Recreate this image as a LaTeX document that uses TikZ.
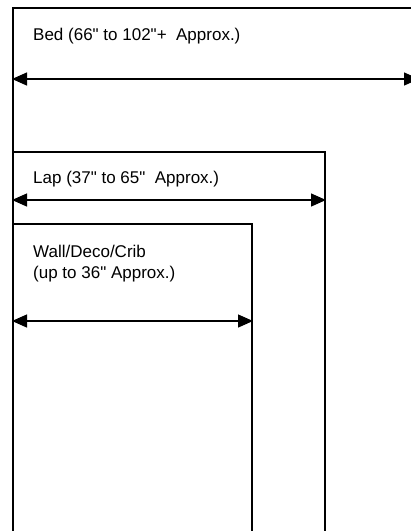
\documentclass[tikz,border=0pt]{standalone}
\usepackage{fontspec}
\setmainfont{Liberation Sans}[Ligatures=TeXOff]
\usetikzlibrary{arrows.meta}
\begin{document}
\begin{tikzpicture}[x=1pt, y=-1pt, every node/.style={font=\fontsize{17}{21}\selectfont, inner sep=0pt}, >={Triangle[length=15pt, width=13pt]}, edge/.style={line width=1.3pt}, span/.style={<->, line width=1.3pt, shorten <=-1pt, shorten >=-1pt}, lab/.style={anchor=base west, align=left}]
	\useasboundingbox (0,0) rectangle (411,531);
	% bed
	\draw[edge] (13,531) -- (13,8) -- (420,8);
	\coordinate (bedL) at (13,79);
	\coordinate (bedR) at (418,79);
	\draw[span] (bedL) -- (bedR);
	\node[lab] (bed) at (33,40) {Bed (66" to 102"+\ \ Approx.)};
	% lap
	\draw[edge] (13,152) -- (325,152) -- (325,531);
	\coordinate (lapL) at (13,200);
	\coordinate (lapR) at (325,200);
	\draw[span] (lapL) -- (lapR);
	\node[lab] (lap) at (33,183) {Lap (37" to 65"\ \ Approx.)};
	% wall
	\draw[edge] (13,224) -- (252,224) -- (252,531);
	\coordinate (wallL) at (13,321);
	\coordinate (wallR) at (252,321);
	\draw[span] (wallL) -- (wallR);
	\node[lab] (wall) at (33,278) {Wall/Deco/Crib\\(up to 36" Approx.)};
\end{tikzpicture}
\end{document}
